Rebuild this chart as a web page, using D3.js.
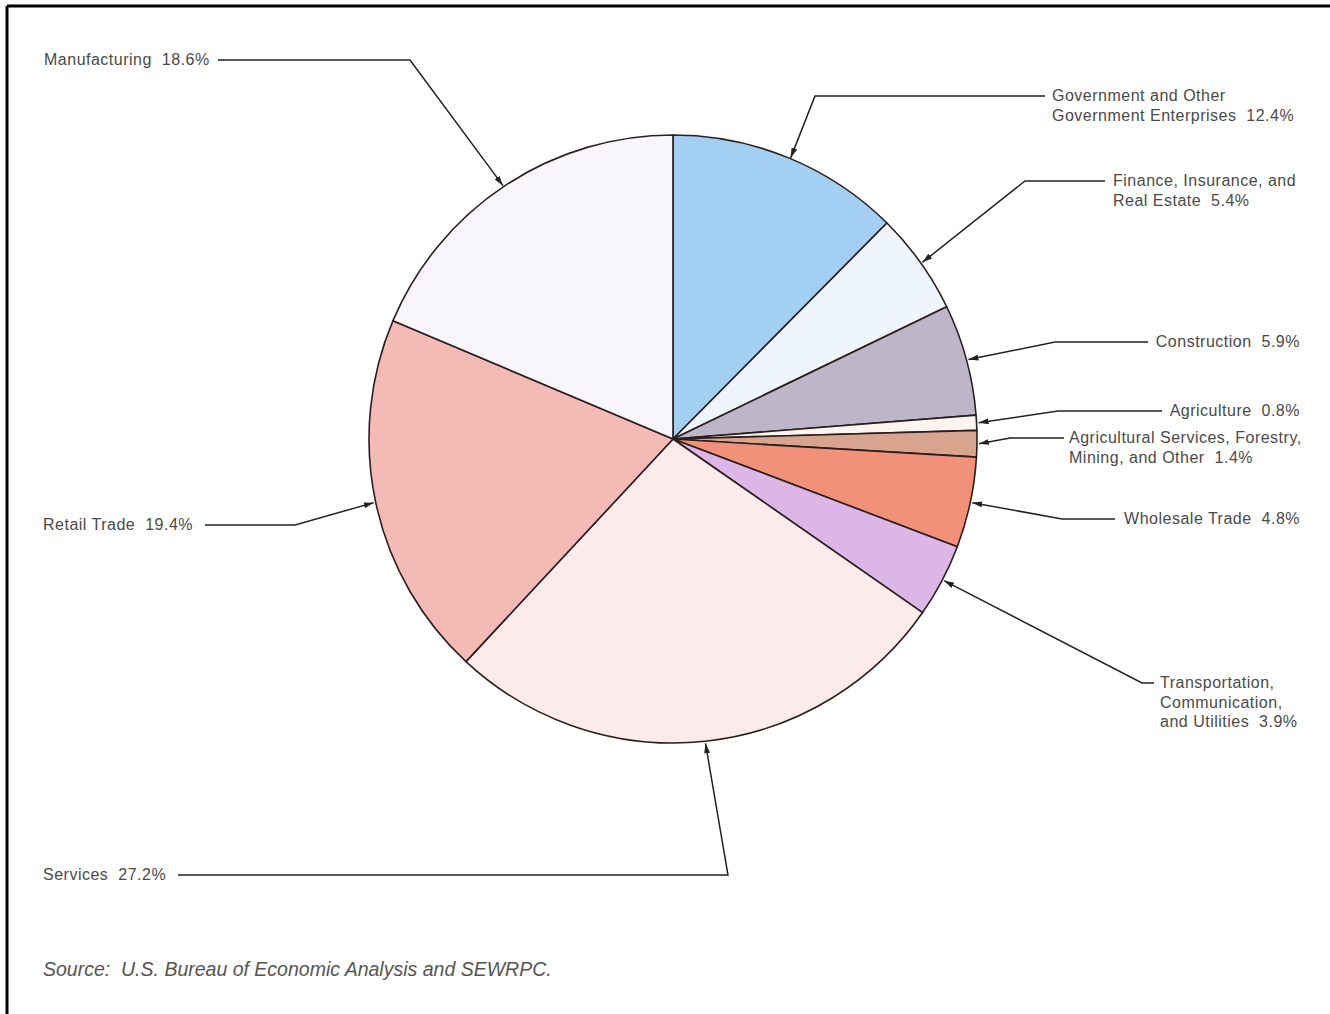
<!DOCTYPE html>
<html>
<head>
<meta charset="utf-8">
<script src="https://cdn.jsdelivr.net/npm/d3@7"></script>
<style>
  body { margin: 0; background: #fff; }
  svg { display: block; }
  text { white-space: pre; }
  .lbl { font-family: "Liberation Sans", Arial, sans-serif; font-size: 16px; fill: #4a4a4a; letter-spacing: 0.5px; }
  .src { font-family: "Liberation Sans", Arial, sans-serif; font-size: 19.5px; font-style: italic; fill: #555; }
</style>
</head>
<body>
<svg width="1330" height="1014"></svg>
<script>
const width = 1330;
const height = 1014;

// clockwise from 12 o'clock
const categories = [
  "Government and Other Government Enterprises",
  "Finance, Insurance, and Real Estate",
  "Construction",
  "Agriculture",
  "Agricultural Services, Forestry, Mining, and Other",
  "Wholesale Trade",
  "Transportation, Communication, and Utilities",
  "Services",
  "Retail Trade",
  "Manufacturing"
];
const shares = [12.4, 5.4, 5.9, 0.8, 1.4, 4.8, 3.9, 27.2, 19.4, 18.6];
const labelLines = [
  ["Government and Other", "Government Enterprises  12.4%"],
  ["Finance, Insurance, and", "Real Estate  5.4%"],
  ["Construction  5.9%"],
  ["Agriculture  0.8%"],
  ["Agricultural Services, Forestry,", "Mining, and Other  1.4%"],
  ["Wholesale Trade  4.8%"],
  ["Transportation,", "Communication,", "and Utilities  3.9%"],
  ["Services  27.2%"],
  ["Retail Trade  19.4%"],
  ["Manufacturing  18.6%"]
];
const sourceNote = "Source:  U.S. Bureau of Economic Analysis and SEWRPC.";

const colors = ["#a3cff3", "#eef5fc", "#bdb6c9", "#fcf4ef", "#d9a48e",
                "#f2917a", "#dcb6e6", "#fcebea", "#f4bab5", "#f8f6fb"];

// where each label and its leader knee sit (layout only)
const layout = [
  { tx: 1052, ty: 101, anchor: "start", lineY: 96,  lineEnd: 1045, knee: 815 },
  { tx: 1113, ty: 186, anchor: "start", lineY: 181, lineEnd: 1105, knee: 1025 },
  { tx: 1300, ty: 347, anchor: "end",   lineY: 342, lineEnd: 1148, knee: 1055 },
  { tx: 1300, ty: 416, anchor: "end",   lineY: 411, lineEnd: 1162, knee: 1058 },
  { tx: 1069, ty: 443, anchor: "start", lineY: 438, lineEnd: 1064, knee: 1010 },
  { tx: 1300, ty: 524, anchor: "end",   lineY: 519, lineEnd: 1115, knee: 1062 },
  { tx: 1160, ty: 688, anchor: "start", lineY: 683, lineEnd: 1154, knee: 1142 },
  { tx: 43,   ty: 880, anchor: "start", lineY: 875, lineEnd: 178,  knee: 728 },
  { tx: 43,   ty: 530, anchor: "start", lineY: 525, lineEnd: 205,  knee: 295 },
  { tx: 44,   ty: 65,  anchor: "start", lineY: 60,  lineEnd: 218,  knee: 410 }
];

const cx = 673;
const cy = 439;
const radius = 304;

const svg = d3.select("svg");

svg.append("defs").append("marker")
    .attr("id", "arrow")
    .attr("viewBox", "0 0 10 6")
    .attr("refX", 10).attr("refY", 3)
    .attr("markerWidth", 10).attr("markerHeight", 6)
    .attr("markerUnits", "userSpaceOnUse")
    .attr("orient", "auto")
  .append("path")
    .attr("d", "M0,0 L10,3 L0,6 Z")
    .attr("fill", "#222");

// frame (top + left edges only)
svg.append("line").attr("x1", 7).attr("y1", 6).attr("x2", width).attr("y2", 6)
   .attr("stroke", "#000").attr("stroke-width", 3);
svg.append("line").attr("x1", 7).attr("y1", 6).attr("x2", 7).attr("y2", height)
   .attr("stroke", "#000").attr("stroke-width", 3);

const rows = categories.map((c, i) => ({ name: c, value: shares[i], i: i }));

const pie = d3.pie().value(d => d.value).sort(null);
const arc = d3.arc().innerRadius(0).outerRadius(radius);
const arcs = pie(rows);

const g = svg.append("g").attr("transform", `translate(${cx},${cy})`);

g.selectAll("path.slice")
  .data(arcs)
  .enter().append("path")
    .attr("class", "slice")
    .attr("d", arc)
    .attr("fill", d => colors[d.data.i])
    .attr("stroke", "#2b1f1f")
    .attr("stroke-width", 1.6)
    .attr("stroke-linejoin", "round");

// leader lines: label -> knee -> arrow tip on rim at slice middle
arcs.forEach(d => {
  const L = layout[d.data.i];
  const a = (d.startAngle + d.endAngle) / 2;
  const tipX = cx + radius * Math.sin(a);
  const tipY = cy - radius * Math.cos(a);

  let pts;
  if (d.data.name === "Services") {
    pts = [[L.lineEnd, L.lineY], [L.knee, L.lineY], [tipX, tipY + 2]];
  } else {
    const off = tipX > cx ? 2 : -2;
    pts = [[L.lineEnd, L.lineY], [L.knee, L.lineY], [tipX + off, tipY]];
  }

  svg.append("path")
    .attr("d", d3.line()(pts))
    .attr("fill", "none")
    .attr("stroke", "#222")
    .attr("stroke-width", 1.5)
    .attr("marker-end", "url(#arrow)");

  const t = svg.append("text")
    .attr("class", "lbl")
    .attr("x", L.tx)
    .attr("y", L.ty)
    .attr("text-anchor", L.anchor);
  labelLines[d.data.i].forEach((s, k) => {
    t.append("tspan").attr("x", L.tx).attr("dy", k === 0 ? 0 : 19.5).text(s);
  });
});

svg.append("text")
  .attr("class", "src")
  .attr("x", 43)
  .attr("y", 976)
  .text(sourceNote);
</script>
</body>
</html>
